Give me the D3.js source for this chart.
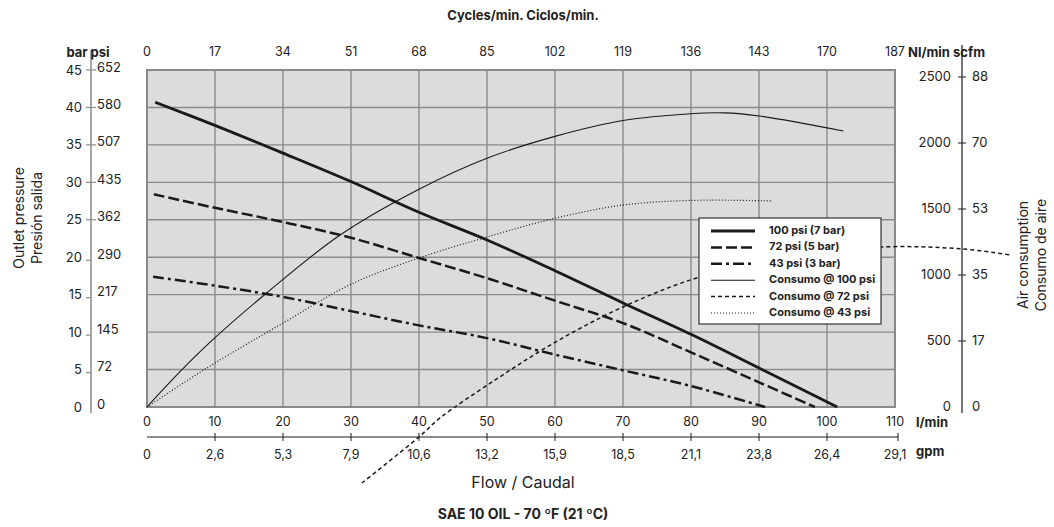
<!DOCTYPE html>
<html>
<head>
<meta charset="utf-8">
<script src="https://cdn.jsdelivr.net/npm/d3@7"></script>
<style>
  body { margin: 0; background: #fff; }
  svg { display: block; font-family: Inter, "Liberation Sans", sans-serif; }
</style>
</head>
<body>
<svg width="1054" height="527"></svg>
<script>
// axis ticks and labels
var flowTicks = [0, 10, 20, 30, 40, 50, 60, 70, 80, 90, 100, 110];
var cycleLabels = ["0", "17", "34", "51", "68", "85", "102", "119", "136", "143", "170", "187"];
var gpmLabels = ["0", "2,6", "5,3", "7,9", "10,6", "13,2", "15,9", "18,5", "21,1", "23,8", "26,4", "29,1"];
var barTicks = [0, 5, 10, 15, 20, 25, 30, 35, 40, 45];
var psiLabels = ["0", "72", "145", "217", "290", "362", "435", "507", "580", "652"];
var nlTicks = [0, 500, 1000, 1500, 2000, 2500];
var scfmLabels = ["0", "17", "35", "53", "70", "88"];

// outlet pressure (bar) vs flow (l/min)
var p100 = [[1.2, 40.7], [10, 37.6], [20, 33.9], [30, 30.1], [40, 26.0], [50, 22.3], [60, 18.2], [70, 13.9], [80, 9.7], [90, 5.2], [101.5, 0]];
var p72 = [[1, 28.4], [10, 26.6], [20, 24.7], [30, 22.6], [40, 19.9], [50, 17.2], [60, 14.2], [70, 11.2], [80, 7.3], [90, 3.3], [98.2, 0]];
var p43 = [[0.9, 17.4], [10, 16.2], [20, 14.7], [30, 12.8], [40, 10.9], [50, 9.2], [60, 7.0], [70, 4.9], [80, 2.8], [90.9, 0]];

// air consumption (Nl/min) vs flow (l/min)
var c100 = [[0, 0], [5, 275], [10, 525], [17.6, 864], [28.4, 1303], [40, 1650], [50, 1885], [60, 2050], [70, 2170], [80, 2222], [85, 2228], [90, 2205], [102.4, 2091]];
var c72 = [[31.6, -576], [40, -227], [43.1, -83], [51.2, 205], [60, 490], [70, 758], [81.3, 985], [95, 1140], [108, 1212], [120, 1197], [127.2, 1150]];
var c43 = [[0, 0], [5, 170], [10, 333], [20, 636], [30, 930], [40, 1129], [50, 1288], [60, 1430], [70, 1530], [80, 1565], [92, 1561]];

var legendNames = ["100 psi (7 bar)", "72 psi (5 bar)", "43 psi (3 bar)", "Consumo @ 100 psi", "Consumo @ 72 psi", "Consumo @ 43 psi"];

var svg = d3.select("svg");
var ink = "#1a1a1a", textCol = "#222", gridCol = "#8a8a8a";

var x = d3.scaleLinear().domain([0, 110]).range([147, 895]);
var yBar = d3.scaleLinear().domain([0, 45]).range([407, 70]);
var yAir = d3.scaleLinear().domain([0, 2500]).range([407, 77]);

// plot background + grid
svg.append("rect")
  .attr("x", x(0)).attr("y", yBar(45))
  .attr("width", x(110) - x(0)).attr("height", yBar(0) - yBar(45))
  .attr("fill", "#dcdcde");

svg.append("g").selectAll("line")
  .data(flowTicks.slice(1, -1))
  .enter().append("line")
  .attr("x1", d => x(d)).attr("x2", d => x(d))
  .attr("y1", yBar(45)).attr("y2", yBar(0))
  .attr("stroke", gridCol).attr("stroke-width", 1.4);

svg.append("g").selectAll("line")
  .data(barTicks.slice(1, -1))
  .enter().append("line")
  .attr("x1", x(0)).attr("x2", x(110))
  .attr("y1", d => yBar(d)).attr("y2", d => yBar(d))
  .attr("stroke", gridCol).attr("stroke-width", 1.4);

svg.append("rect")
  .attr("x", x(0)).attr("y", yBar(45))
  .attr("width", x(110) - x(0)).attr("height", yBar(0) - yBar(45))
  .attr("fill", "none").attr("stroke", gridCol).attr("stroke-width", 2);

// curves
var line = function(ys) {
  return d3.line().x(d => x(d[0])).y(d => ys(d[1])).curve(d3.curveCatmullRom.alpha(0.5));
};

var series = [
  { data: p100, y: yBar, w: 2.8, dash: null },
  { data: p72, y: yBar, w: 2.5, dash: "11,4" },
  { data: p43, y: yBar, w: 2.5, dash: "11,4,3,4" },
  { data: c100, y: yAir, w: 1.1, dash: null },
  { data: c72, y: yAir, w: 1.5, dash: "4,3" },
  { data: c43, y: yAir, w: 1.2, dash: "1,2" }
];

series.forEach(function(s) {
  svg.append("path")
    .attr("d", line(s.y)(s.data))
    .attr("fill", "none")
    .attr("stroke", ink)
    .attr("stroke-width", s.w)
    .attr("stroke-dasharray", s.dash);
});

// legend
var lg = svg.append("g").attr("transform", "translate(699,218)");
lg.append("rect").attr("width", 182).attr("height", 106)
  .attr("fill", "#fff").attr("stroke", "#333").attr("stroke-width", 1.2);
series.forEach(function(s, i) {
  var yy = 13 + i * 16.4;
  lg.append("line")
    .attr("x1", 12).attr("x2", 56).attr("y1", yy).attr("y2", yy)
    .attr("stroke", ink).attr("stroke-width", s.w)
    .attr("stroke-dasharray", s.dash);
  lg.append("text")
    .attr("x", 70).attr("y", yy)
    .attr("dominant-baseline", "middle")
    .style("font-size", "11px").style("font-weight", "bold")
    .attr("fill", textCol)
    .text(legendNames[i]);
});

// left axis (bar / psi)
svg.append("line")
  .attr("x1", 91).attr("x2", 91).attr("y1", 50).attr("y2", 413)
  .attr("stroke", gridCol).attr("stroke-width", 1.5);

barTicks.forEach(function(t, i) {
  var yy = yBar(t);
  if (t >= 25) {
    svg.append("line").attr("x1", 86).attr("x2", 96).attr("y1", yy).attr("y2", yy)
      .attr("stroke", gridCol).attr("stroke-width", 1.2);
  } else if (t > 0) {
    svg.append("line").attr("x1", 86).attr("x2", 91).attr("y1", yy + 3).attr("y2", yy + 3)
      .attr("stroke", gridCol).attr("stroke-width", 1.2);
  }
  svg.append("text").attr("x", 82).attr("y", yy + 1)
    .attr("text-anchor", "end").attr("dominant-baseline", "middle")
    .style("font-size", "13px").attr("fill", textCol).text(t);
  svg.append("text").attr("x", 97).attr("y", yy - 2)
    .attr("text-anchor", "start").attr("dominant-baseline", "middle")
    .style("font-size", "13px").attr("fill", textCol).text(psiLabels[i]);
});

svg.append("text").attr("x", 88).attr("y", 53)
  .attr("text-anchor", "middle").attr("dominant-baseline", "middle")
  .style("font-size", "13px").style("font-weight", "bold").attr("fill", textCol)
  .text("bar psi");

// right axis (Nl/min / scfm)
svg.append("line")
  .attr("x1", 962).attr("x2", 962).attr("y1", 45).attr("y2", 413)
  .attr("stroke", ink).attr("stroke-width", 1.2);

nlTicks.forEach(function(t, i) {
  var yy = yAir(t);
  if (t > 0) {
    svg.append("line").attr("x1", 958).attr("x2", 966).attr("y1", yy).attr("y2", yy)
      .attr("stroke", ink).attr("stroke-width", 1);
  }
  svg.append("text").attr("x", 951).attr("y", yy)
    .attr("text-anchor", "end").attr("dominant-baseline", "middle")
    .style("font-size", "13px").attr("fill", textCol).text(t);
  svg.append("text").attr("x", 972).attr("y", yy)
    .attr("text-anchor", "start").attr("dominant-baseline", "middle")
    .style("font-size", "13px").attr("fill", textCol).text(scfmLabels[i]);
});

svg.append("text").attr("x", 908).attr("y", 53)
  .attr("text-anchor", "start").attr("dominant-baseline", "middle")
  .style("font-size", "13px").style("font-weight", "bold").attr("fill", textCol)
  .text("Nl/min scfm");

// top axis (cycles/min)
svg.append("g").selectAll("text")
  .data(flowTicks).enter().append("text")
  .attr("x", d => x(d)).attr("y", 53)
  .attr("text-anchor", "middle").attr("dominant-baseline", "middle")
  .style("font-size", "12.5px").attr("fill", textCol)
  .text((d, i) => cycleLabels[i]);

svg.append("text").attr("x", 523).attr("y", 16)
  .attr("text-anchor", "middle").attr("dominant-baseline", "middle")
  .style("font-size", "13px").style("font-weight", "bold").attr("fill", textCol)
  .text("Cycles/min. Ciclos/min.");

// bottom axes (l/min and gpm)
svg.append("g").selectAll("text")
  .data(flowTicks).enter().append("text")
  .attr("x", d => x(d)).attr("y", 423)
  .attr("text-anchor", "middle").attr("dominant-baseline", "middle")
  .style("font-size", "12.5px").attr("fill", textCol)
  .text(d => d);

svg.append("text").attr("x", 916).attr("y", 423)
  .attr("dominant-baseline", "middle")
  .style("font-size", "13px").style("font-weight", "bold").attr("fill", textCol)
  .text("l/min");

svg.append("line")
  .attr("x1", x(0)).attr("x2", x(110) + 3).attr("y1", 437).attr("y2", 437)
  .attr("stroke", ink).attr("stroke-width", 1);

svg.append("g").selectAll("line")
  .data(flowTicks.slice(1)).enter().append("line")
  .attr("x1", d => d === 110 ? x(d) + 3 : x(d)).attr("x2", d => d === 110 ? x(d) + 3 : x(d))
  .attr("y1", 433).attr("y2", 441)
  .attr("stroke", ink).attr("stroke-width", 1);

svg.append("g").selectAll("text")
  .data(flowTicks).enter().append("text")
  .attr("x", d => x(d)).attr("y", 456)
  .attr("text-anchor", "middle").attr("dominant-baseline", "middle")
  .style("font-size", "12.5px").attr("fill", textCol)
  .text((d, i) => gpmLabels[i]);

svg.append("text").attr("x", 916).attr("y", 452)
  .attr("dominant-baseline", "middle")
  .style("font-size", "13px").style("font-weight", "bold").attr("fill", textCol)
  .text("gpm");

svg.append("text").attr("x", 523).attr("y", 484)
  .attr("text-anchor", "middle").attr("dominant-baseline", "middle")
  .style("font-size", "16px").attr("fill", textCol)
  .text("Flow / Caudal");

svg.append("text").attr("x", 523).attr("y", 515)
  .attr("text-anchor", "middle").attr("dominant-baseline", "middle")
  .style("font-size", "14px").style("font-weight", "bold").attr("fill", textCol)
  .text("SAE 10 OIL - 70 ºF (21 ºC)");

// rotated axis titles
var leftTitle = svg.append("text")
  .attr("transform", "translate(27,218) rotate(-90)")
  .attr("text-anchor", "middle")
  .style("font-size", "14px").attr("fill", textCol);
leftTitle.append("tspan").attr("x", 0).attr("dy", "-0.2em").text("Outlet pressure");
leftTitle.append("tspan").attr("x", 0).attr("dy", "1.25em").text("Presión salida");

var rightTitle = svg.append("text")
  .attr("transform", "translate(1031,255) rotate(-90)")
  .attr("text-anchor", "middle")
  .style("font-size", "14px").attr("fill", textCol);
rightTitle.append("tspan").attr("x", 0).attr("dy", "-0.2em").text("Air consumption");
rightTitle.append("tspan").attr("x", 0).attr("dy", "1.25em").text("Consumo de aire");
</script>
</body>
</html>
